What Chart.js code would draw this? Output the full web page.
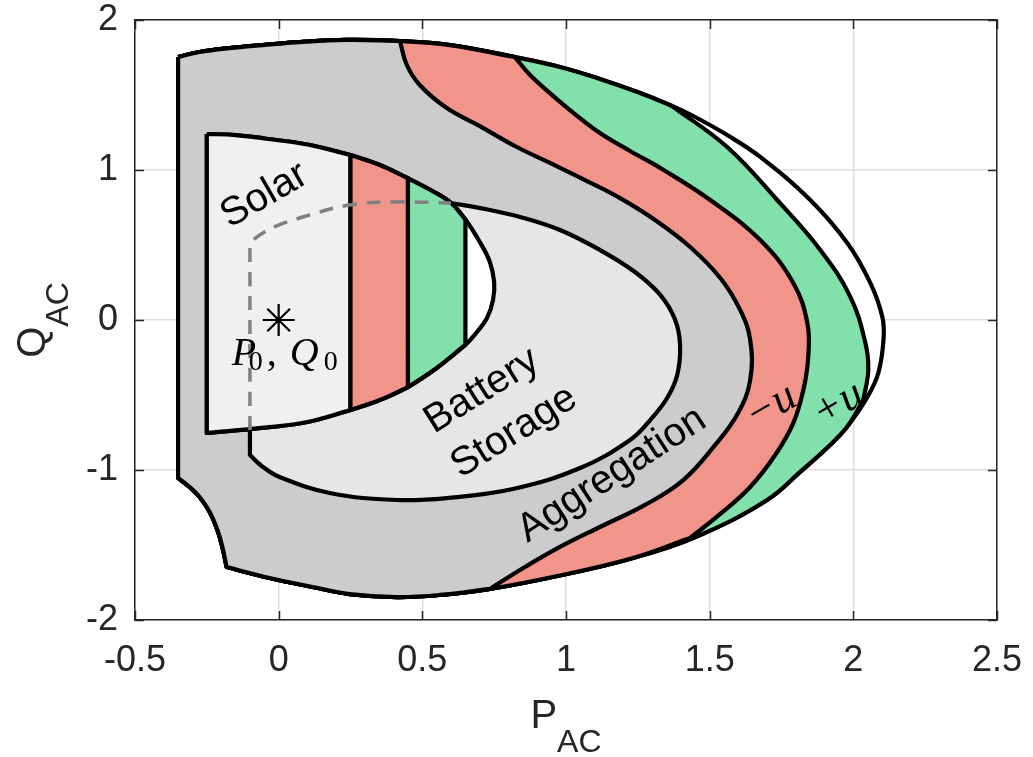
<!DOCTYPE html>
<html><head><meta charset="utf-8">
<script src="https://cdn.jsdelivr.net/npm/chart.js@4/dist/chart.umd.min.js"></script>
<style>html,body{margin:0;padding:0;background:#fff;}#wrap{width:1033px;height:757px;}</style>
</head><body><div id="wrap"><canvas id="c" width="1033" height="757"></canvas></div>
<script>
// ---- axis ticks ----
const xTicks = [-0.5, 0, 0.5, 1, 1.5, 2, 2.5];
const xTickLabels = ['-0.5', '0', '0.5', '1', '1.5', '2', '2.5'];
const yTicks = [-2, -1, 0, 1, 2];
const yTickLabels = ['-2', '-1', '0', '1', '2'];

// ---- boundary curves, [P, Q] ----
const outerTop = [[-0.35,1.753],[-0.275,1.787],[-0.171,1.813],[-0.056,1.833],[0.073,1.853],[0.237,1.867],[0.422,1.86],[0.596,1.833],[0.822,1.753],[0.979,1.687],[1.118,1.607],[1.258,1.513],[1.369,1.427]];
const outerRight = [[1.443,1.36],[1.561,1.233],[1.676,1.087],[1.85,0.8],[1.979,0.513],[2.059,0.247],[2.101,0.02],[2.105,-0.133],[2.087,-0.353],[2.049,-0.513]];
const plusEdge = [[1.369,1.427],[1.561,1.153],[1.735,0.8],[1.885,0.467],[1.99,0.153],[2.042,-0.153],[2.052,-0.333],[2.035,-0.533]];
const outerBottom = [[2.035,-0.533],[1.983,-0.70],[1.93,-0.813],[1.815,-1.013],[1.70,-1.20],[1.467,-1.433],[1.233,-1.587],[1.003,-1.693],[0.735,-1.793],[0.561,-1.833],[0.411,-1.847],[0.247,-1.827],[0.118,-1.78],[-0.031,-1.72],[-0.181,-1.647]];
const outerCorner = [[-0.181,-1.647],[-0.195,-1.52],[-0.213,-1.40],[-0.24,-1.28],[-0.275,-1.18],[-0.31,-1.113],[-0.35,-1.053]];
const outerLeft = [[-0.35,-1.053],[-0.35,1.753]];
const minusEdge = [[0.822,1.753],[0.875,1.633],[0.944,1.513],[1.031,1.373],[1.118,1.247],[1.223,1.127],[1.334,1.007],[1.502,0.80],[1.676,0.533],[1.791,0.247],[1.84,-0.02],[1.843,-0.247],[1.826,-0.467],[1.791,-0.687],[1.728,-0.90],[1.641,-1.113],[1.537,-1.293],[1.432,-1.453]];
const aggregationEdge = [[0.422,1.86],[0.446,1.70],[0.491,1.567],[0.585,1.413],[0.70,1.293],[0.822,1.16],[0.944,1.047],[1.066,0.933],[1.188,0.813],[1.31,0.667],[1.432,0.487],[1.537,0.28],[1.606,0.067],[1.641,-0.133],[1.641,-0.40],[1.599,-0.62],[1.519,-0.833],[1.408,-1.067],[1.275,-1.233],[1.118,-1.38],[0.979,-1.513],[0.857,-1.647],[0.735,-1.793]];
const batteryEdge = [[0.6,0.78],[0.718,0.74],[0.84,0.687],[0.979,0.60],[1.118,0.467],[1.24,0.32],[1.328,0.167],[1.38,0],[1.397,-0.167],[1.387,-0.367],[1.352,-0.52],[1.293,-0.667],[1.223,-0.80],[1.049,-0.987],[0.815,-1.127],[0.585,-1.187],[0.411,-1.20],[0.178,-1.153],[0.003,-1.047],[-0.059,-0.973],[-0.1,-0.90]];
const batteryLeft = [[-0.1,-0.90],[-0.1,-0.733]];
const solarTop = [[-0.25,1.24],[-0.15,1.233],[-0.05,1.21],[0.1,1.17],[0.25,1.10],[0.35,1.035],[0.45,0.945],[0.53,0.865],[0.6,0.78],[0.65,0.67]];
const solarHole = [[0.7,0.52],[0.735,0.387],[0.75,0.253],[0.746,0.133],[0.725,0.013],[0.69,-0.08]];
const solarBottom = [[0.65,-0.165],[0.55,-0.32],[0.45,-0.447],[0.35,-0.535],[0.25,-0.6],[0.1,-0.68],[-0.05,-0.718],[-0.25,-0.753]];
const limitVertical = [[-0.1,-0.733],[-0.1,0.513]];
const limitCurve = [[-0.1,0.513],[-0.066,0.567],[-0.007,0.627],[0.108,0.70],[0.247,0.767],[0.397,0.787],[0.6,0.78]];
const operatingPoint = [[0, 0]];
const solarSplit = [0.25, 0.45, 0.65];   // P of the band edges inside the solar region

// ---- text ----
const regionLabels = ['Solar', 'Battery', 'Storage', 'Aggregation'];
const bandLabels = ['\u2212u', '+u'];

// ---- helpers ----
const xy = a => a.map(([x, y]) => ({x, y}));
const between = (a, lo, hi) => a.filter(p => p[0] >= lo - 1e-9 && p[0] <= hi + 1e-9);
// joins segments; repeating each join point keeps a sharp corner under the spline
function path(...segs) {
  const out = [];
  for (const s of segs) { out.push(s[0], ...s, s[s.length - 1]); }
  return out;
}
const ring = (...segs) => { const p = path(...segs); p.push(segs[0][0]); return p; };

const envelope = ring([...outerTop, ...outerRight, ...outerBottom.slice(1)], outerCorner, outerLeft);
const plusRegion = ring(outerTop, plusEdge, outerBottom, outerCorner, outerLeft);
const minusRegion = ring(outerTop.filter(p => p[0] <= 0.822), minusEdge, [minusEdge[minusEdge.length - 1], ...outerBottom.filter(p => p[0] < 1.432)], outerCorner, outerLeft);
const aggRegion = ring(outerTop.filter(p => p[0] <= 0.422), aggregationEdge, outerBottom.filter(p => p[0] <= 0.735), outerCorner, outerLeft);
const batteryRegion = ring(batteryEdge, batteryLeft, [batteryLeft[1], batteryEdge[0]]);
const solarLeft = [solarBottom[solarBottom.length - 1], solarTop[0]];
const solarWhole = ring([...solarTop, ...solarHole, ...solarBottom], solarLeft);
function band(lo, hi) {
  const t = between(solarTop, lo, hi), b = between(solarBottom, lo, hi);
  return ring(t, [t[t.length - 1], b[0]], b, [b[b.length - 1], t[0]]);
}
const solarBase = band(-1, solarSplit[0]);
const solarMinus = band(solarSplit[0], solarSplit[1]);
const solarPlus = band(solarSplit[1], solarSplit[2]);
const batteryLimit = path(limitVertical, limitCurve);

const layers = [
  {d: envelope, bg: '#ffffff'},
  {d: plusRegion, bg: '#82E0AA'},
  {d: minusRegion, bg: '#F1948A'},
  {d: aggRegion, bg: '#CCCCCC'},
  {d: batteryRegion, bg: '#E6E6E6'},
  {d: solarWhole, bg: '#ffffff'},
  {d: solarBase, bg: '#F0F0F0'},
  {d: solarMinus, bg: '#F1948A'},
  {d: solarPlus, bg: '#82E0AA'}
];

const datasets = layers.map((l, i) => ({
  data: xy(l.d), showLine: true, fill: 'shape', backgroundColor: l.bg,
  borderColor: '#000', borderWidth: 4.2, borderJoinStyle: 'round', tension: 0.4,
  pointRadius: 0, pointHoverRadius: 0, order: 100 - i
}));
datasets.push({data: xy(batteryLimit), showLine: true, fill: false, borderColor: '#808080',
  borderWidth: 3.5, borderDash: [14, 10], tension: 0.4, pointRadius: 0, pointHoverRadius: 0, order: 50});
datasets.push({data: xy(operatingPoint), showLine: false, pointStyle: 'star', pointRadius: 16,
  pointBorderColor: '#000', pointBorderWidth: 2.2, pointHoverRadius: 16, order: 40});

const LABEL_FONT = '40px "Liberation Sans", Arial, sans-serif';
const annotations = [
  {text: regionLabels[0], x: -0.05, y: 0.83, angle: -30, font: LABEL_FONT},
  {text: regionLabels[1], x: 0.707, y: -0.473, angle: -32, font: LABEL_FONT},
  {text: regionLabels[2], x: 0.819, y: -0.747, angle: -32, font: LABEL_FONT},
  {text: regionLabels[3], x: 1.16, y: -1.033, angle: -33, font: LABEL_FONT},
  {text: bandLabels[0], x: 1.714, y: -0.58, angle: -30, font: 'italic 44px "Liberation Serif", serif'},
  {text: bandLabels[1], x: 1.948, y: -0.565, angle: -30, font: 'italic 44px "Liberation Serif", serif'}
];
const pointLabel = [
  {t: 'P', dx: -47, dy: 45, f: 'italic 40px "Liberation Serif", serif'},
  {t: '0', dx: -30, dy: 50, f: '28px "Liberation Serif", serif'},
  {t: ',', dx: -12, dy: 45, f: '40px "Liberation Serif", serif'},
  {t: 'Q', dx: 11, dy: 45, f: 'italic 40px "Liberation Serif", serif'},
  {t: '0', dx: 45, dy: 50, f: '28px "Liberation Serif", serif'}
];

const AX = '#262626';
const SANS = '"Liberation Sans", Arial, Helvetica, sans-serif';

const decor = {
  id: 'decor',
  afterDatasetsDraw(chart) {
    const {ctx, scales: {x, y}} = chart;
    ctx.save();
    ctx.fillStyle = '#000';
    ctx.textAlign = 'center';
    ctx.textBaseline = 'middle';
    for (const a of annotations) {
      ctx.save();
      ctx.translate(x.getPixelForValue(a.x), y.getPixelForValue(a.y));
      ctx.rotate(a.angle * Math.PI / 180);
      ctx.font = a.font;
      ctx.fillText(a.text, 0, 0);
      ctx.restore();
    }
    const sx = x.getPixelForValue(operatingPoint[0][0]);
    const sy = y.getPixelForValue(operatingPoint[0][1]);
    ctx.textAlign = 'left';
    ctx.textBaseline = 'alphabetic';
    for (const p of pointLabel) { ctx.font = p.f; ctx.fillText(p.t, sx + p.dx, sy + p.dy); }
    ctx.restore();
  },
  afterDraw(chart) {
    const {ctx, chartArea: a, scales: {x, y}} = chart;
    ctx.save();
    ctx.strokeStyle = AX; ctx.lineWidth = 1.5;
    ctx.beginPath();
    for (const v of xTicks) {
      const px = Math.round(x.getPixelForValue(v)) + 0.5;
      ctx.moveTo(px, a.bottom); ctx.lineTo(px, a.bottom - 9);
      ctx.moveTo(px, a.top); ctx.lineTo(px, a.top + 9);
    }
    for (const v of yTicks) {
      const py = Math.round(y.getPixelForValue(v)) + 0.5;
      ctx.moveTo(a.left, py); ctx.lineTo(a.left + 9, py);
      ctx.moveTo(a.right, py); ctx.lineTo(a.right - 9, py);
    }
    ctx.stroke();
    ctx.fillStyle = AX;
    ctx.textAlign = 'left'; ctx.textBaseline = 'alphabetic';
    ctx.font = '40px ' + SANS; const wP = ctx.measureText('P').width;
    ctx.font = '32px ' + SANS; const wS = ctx.measureText('AC').width;
    const cx = (a.left + a.right) / 2 - (wP + wS) / 2;
    ctx.font = '40px ' + SANS; ctx.fillText('P', cx, 728);
    ctx.font = '32px ' + SANS; ctx.fillText('AC', cx + wP, 752);
    ctx.font = '40px ' + SANS; const wQ = ctx.measureText('Q').width;
    ctx.save();
    ctx.translate(45, (a.top + a.bottom) / 2);
    ctx.rotate(-Math.PI / 2);
    const st = -(wQ + wS) / 2;
    ctx.font = '40px ' + SANS; ctx.fillText('Q', st, 0);
    ctx.font = '32px ' + SANS; ctx.fillText('AC', st + wQ, 23);
    ctx.restore();
    ctx.restore();
  }
};

new Chart(document.getElementById('c'), {
  type: 'scatter',
  data: {datasets},
  options: {
    responsive: false, devicePixelRatio: 1, animation: false, events: [],
    layout: {padding: {left: 0, right: 36, top: 20, bottom: 0}},
    plugins: {legend: {display: false}, tooltip: {enabled: false}},
    scales: {
      x: {
        type: 'linear', position: 'bottom', min: -0.5, max: 2.5,
        afterBuildTicks: s => { s.ticks = xTicks.map(v => ({value: v})); },
        ticks: {callback: (v, i) => xTickLabels[i], font: {family: SANS, size: 36}, color: AX, padding: 19, maxRotation: 0, autoSkip: false},
        grid: {color: '#dedede', lineWidth: 1.5, drawTicks: false},
        border: {color: AX, width: 1.5},
        afterFit: s => { s.height = 137; s.paddingLeft = 0; s.paddingRight = 0; }
      },
      y: {
        type: 'linear', position: 'left', min: -2, max: 2,
        afterBuildTicks: s => { s.ticks = yTicks.map(v => ({value: v})); },
        ticks: {callback: (v, i) => yTickLabels[i], font: {family: SANS, size: 36}, color: AX, padding: 17, autoSkip: false},
        grid: {color: '#dedede', lineWidth: 1.5, drawTicks: false},
        border: {color: AX, width: 1.5},
        afterFit: s => { s.width = 135; s.paddingTop = 0; s.paddingBottom = 0; }
      },
      x2: {
        type: 'linear', position: 'top', min: -0.5, max: 2.5,
        ticks: {display: false}, grid: {display: false, drawTicks: false},
        border: {display: true, color: AX, width: 1.5},
        afterFit: s => { s.height = 0; s.paddingLeft = 0; s.paddingRight = 0; }
      },
      y2: {
        type: 'linear', position: 'right', min: -2, max: 2,
        ticks: {display: false}, grid: {display: false, drawTicks: false},
        border: {display: true, color: AX, width: 1.5},
        afterFit: s => { s.width = 0; s.paddingTop = 0; s.paddingBottom = 0; }
      }
    }
  },
  plugins: [decor]
});
</script>
</body></html>
